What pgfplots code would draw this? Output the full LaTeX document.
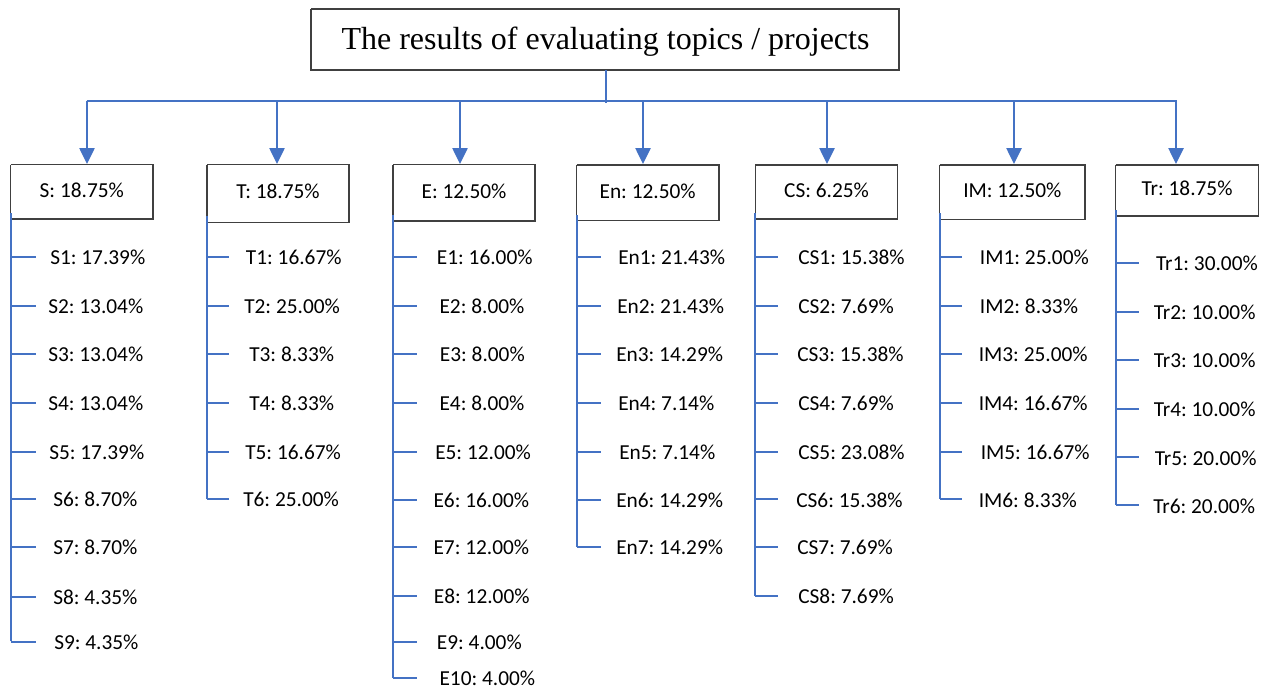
\documentclass[border=0pt]{standalone}
\usepackage{pgfplots}
\pgfplotsset{compat=1.18}
\usetikzlibrary{arrows.meta}
\usepackage{fontspec}
\setmainfont{Carlito}
\newfontfamily\titlefont{Liberation Serif}
\frenchspacing
\definecolor{bl}{HTML}{4472C4}
\definecolor{bx}{HTML}{404040}
\newcommand{\leaf}[5]{%
  \addplot[bl, line width=1.5pt] coordinates {(#1,#3)(#2,#3)};
  \node[anchor=west, inner sep=0pt, yshift=-0.4pt, font=\fontsize{16}{19}\selectfont] at (axis cs:#4,#3) {#5};}
\newcommand{\vln}[3]{%
  \addplot[bl, line width=1.5pt] coordinates {(#1,#2)(#1,#3)};}
\newcommand{\boxrect}[5]{%
  \addplot[bx, line width=1.1pt] coordinates {(#1,#2)(#3,#2)(#3,#4)(#1,#4)(#1,#2)};
  \node[font=\fontsize{16}{19}\selectfont, inner sep=0pt, yshift=1.5pt] at (axis cs:{(#1+#3)/2},{(#2+#4)/2}) {#5};}
\newcommand{\arrowdown}[1]{%
  \addplot[bl, line width=1.1pt, -{Triangle[length=12pt,width=11.5pt]}] coordinates {(#1,101)(#1,164)};}
\begin{document}
\begin{tikzpicture}
\begin{axis}[
  scale only axis, width=949.5pt, height=516.75pt,
  xmin=0, xmax=1266, ymin=0, ymax=689, y dir=reverse,
  hide axis, clip=false]
\addplot[draw=none] coordinates {(0,0)(1266,689)};
% title
\addplot[bx, line width=1.1pt] coordinates {(311,9)(899,9)(899,70)(311,70)(311,9)};
\node[anchor=base, inner sep=0pt, font=\titlefont\fontsize{24}{28}\selectfont] at (axis cs:605.5,49.5) {The results of evaluating topics / projects};
\addplot[bl, line width=1.3pt] coordinates {(606,70)(606,103)};
\addplot[bl, line width=1.5pt] coordinates {(86.5,101)(1176.5,101)};
\arrowdown{87}\arrowdown{277}\arrowdown{460}\arrowdown{643}\arrowdown{827}\arrowdown{1014}\arrowdown{1176}
% boxes
\boxrect{10.6}{164.7}{153}{219}{S: 18.75\%}
\boxrect{207}{164.7}{349}{222.7}{T: 18.75\%}
\boxrect{393}{164.7}{535}{221}{E: 12.50\%}
\boxrect{576.5}{165}{718.8}{220.7}{En: 12.50\%}
\boxrect{755.4}{165}{897.7}{219}{CS: 6.25\%}
\boxrect{939.7}{165}{1085}{219.3}{IM: 12.50\%}
\boxrect{1115.5}{165}{1258.6}{216}{Tr: 18.75\%}
% S
\vln{10.6}{213}{641}
\leaf{10.6}{36}{256.7}{50}{S1: 17.39\%}
\leaf{10.6}{36}{306}{48}{S2: 13.04\%}
\leaf{10.6}{36}{354}{48}{S3: 13.04\%}
\leaf{10.6}{36}{402.7}{48}{S4: 13.04\%}
\leaf{10.6}{36}{451.7}{49}{S5: 17.39\%}
\leaf{10.6}{36}{498.7}{53}{S6: 8.70\%}
\leaf{10.6}{36}{546.7}{53}{S7: 8.70\%}
\leaf{10.6}{36}{596.7}{53}{S8: 4.35\%}
\leaf{10.6}{36}{642}{54}{S9: 4.35\%}
% T
\vln{207}{216}{499}
\leaf{207}{229}{256.7}{245.7}{T1: 16.67\%}
\leaf{207}{229}{306}{244}{T2: 25.00\%}
\leaf{207}{229}{354}{249}{T3: 8.33\%}
\leaf{207}{229}{402.7}{249}{T4: 8.33\%}
\leaf{207}{229}{451.7}{245}{T5: 16.67\%}
\leaf{207}{229}{499}{243}{T6: 25.00\%}
% E
\vln{393}{215}{677.7}
\leaf{393}{417}{257}{436.7}{E1: 16.00\%}
\leaf{393}{417}{306}{439.3}{E2: 8.00\%}
\leaf{393}{417}{353.7}{439.7}{E3: 8.00\%}
\leaf{393}{417}{402.7}{439.3}{E4: 8.00\%}
\leaf{393}{417}{451.7}{435}{E5: 12.00\%}
\leaf{393}{417}{499.7}{433.3}{E6: 16.00\%}
\leaf{393}{417}{546.7}{433.3}{E7: 12.00\%}
\leaf{393}{417}{595.7}{433.7}{E8: 12.00\%}
\leaf{393}{417}{641.7}{436.7}{E9: 4.00\%}
\leaf{393}{417}{677.7}{439.3}{E10: 4.00\%}
% En
\vln{577}{215}{547}
\leaf{577}{601}{257}{618}{En1: 21.43\%}
\leaf{577}{601}{306}{617}{En2: 21.43\%}
\leaf{577}{601}{353.7}{616}{En3: 14.29\%}
\leaf{577}{601}{402.7}{618}{En4: 7.14\%}
\leaf{577}{601}{451.7}{619}{En5: 7.14\%}
\leaf{577}{601}{499.7}{616}{En6: 14.29\%}
\leaf{577}{601}{547}{616}{En7: 14.29\%}
% CS
\vln{755.4}{213}{595.7}
\leaf{755.4}{778}{256.7}{798}{CS1: 15.38\%}
\leaf{755.4}{778}{305.7}{798}{CS2: 7.69\%}
\leaf{755.4}{778}{353.7}{797}{CS3: 15.38\%}
\leaf{755.4}{778}{402.7}{798}{CS4: 7.69\%}
\leaf{755.4}{778}{451.7}{798}{CS5: 23.08\%}
\leaf{755.4}{778}{499.3}{796}{CS6: 15.38\%}
\leaf{755.4}{778}{546.7}{797}{CS7: 7.69\%}
\leaf{755.4}{778}{595.7}{798}{CS8: 7.69\%}
% IM
\vln{939.7}{213}{499.3}
\leaf{939.7}{962}{256.7}{979.7}{IM1: 25.00\%}
\leaf{939.7}{962}{305.7}{979.7}{IM2: 8.33\%}
\leaf{939.7}{962}{353.7}{978.5}{IM3: 25.00\%}
\leaf{939.7}{962}{402.7}{978.5}{IM4: 16.67\%}
\leaf{939.7}{962}{451.7}{980.5}{IM5: 16.67\%}
\leaf{939.7}{962}{499.3}{978.5}{IM6: 8.33\%}
% Tr
\vln{1115.5}{210}{505.3}
\leaf{1115.5}{1139}{262.7}{1155.8}{Tr1: 30.00\%}
\leaf{1115.5}{1139}{311.7}{1153.5}{Tr2: 10.00\%}
\leaf{1115.5}{1139}{359.7}{1153.5}{Tr3: 10.00\%}
\leaf{1115.5}{1139}{408.7}{1153.5}{Tr4: 10.00\%}
\leaf{1115.5}{1139}{457.3}{1154.5}{Tr5: 20.00\%}
\leaf{1115.5}{1139}{505.3}{1153}{Tr6: 20.00\%}
\end{axis}
\end{tikzpicture}
\end{document}
